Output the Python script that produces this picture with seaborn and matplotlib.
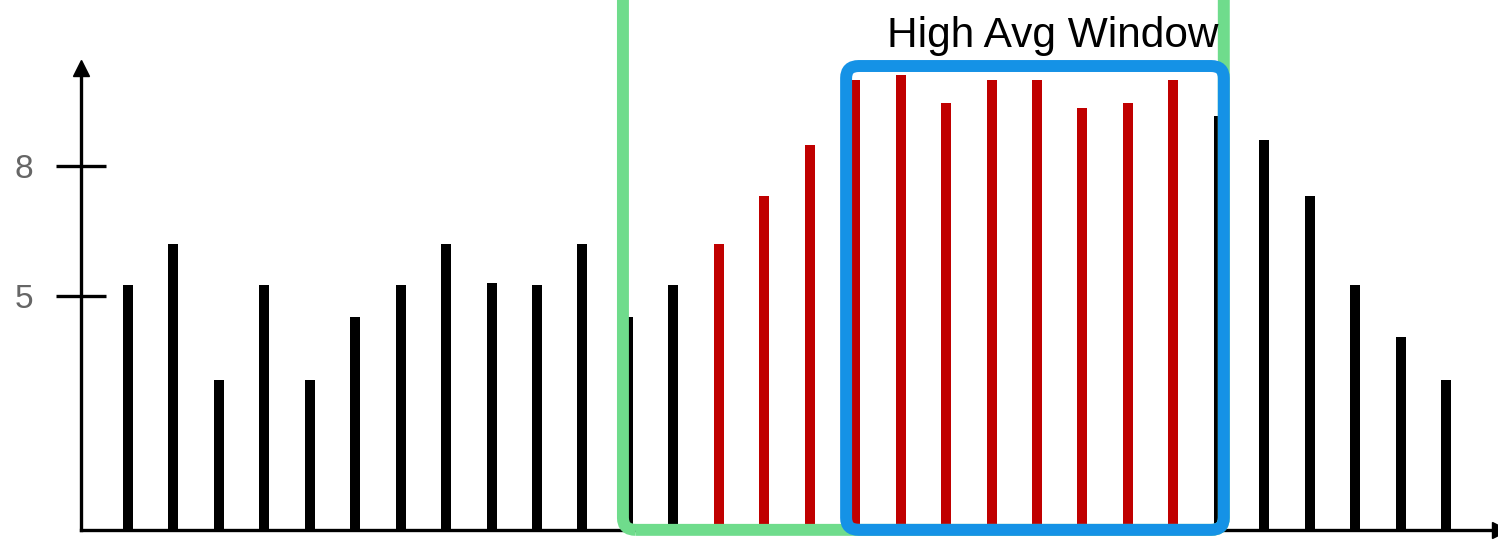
import pandas as pd
import seaborn as sns
import matplotlib.pyplot as plt
from matplotlib.patches import FancyBboxPatch

# values (tick units)
values = [5.25, 6.2, 3.05, 5.25, 3.05, 4.5, 5.25, 6.2, 5.3, 5.25,
          6.2, 4.5, 5.25, 6.2, 7.3, 8.5, 10.0, 10.1, 9.45, 10.0,
          10.0, 9.35, 9.45, 10.0, 9.15, 8.6, 7.3, 5.25, 4.05, 3.05]
highlight = [0] * 13 + [1] * 11 + [0] * 6
ytick_vals = [5, 8]
ytick_labels = ['5', '8']
label_text = 'High Avg Window'

base = -0.42  # where the x axis sits

df = pd.DataFrame({'pos': range(len(values)), 'value': values,
                   'group': ['high' if h else 'normal' for h in highlight]})

sns.set_style('white')
plt.rcParams['font.family'] = ['Liberation Sans', 'DejaVu Sans']

fig = plt.figure(figsize=(14.98, 5.42), dpi=100)
ax = fig.add_axes([0, 0, 1, 1])

sns.barplot(data=df, x='pos', y='value', hue='group',
            palette={'normal': 'black', 'high': '#c00000'}, saturation=1,
            width=0.22, legend=False, ax=ax, zorder=1, linewidth=0)

# bars start from the axis line, not from zero
for p in ax.patches:
    idx = int(round(p.get_x() + p.get_width() / 2))
    p.set_y(base)
    p.set_height(values[idx] - base)

ax.set_xlim(-2.816, 30.143)
ax.set_ylim(-0.701, 11.845)

# axes with arrows
yaxis_x = -1.023
sns.despine(ax=ax)
ax.spines['left'].set_position(('data', yaxis_x))
ax.spines['left'].set_bounds(base, 10.28)
ax.spines['bottom'].set_position(('data', base))
ax.spines['bottom'].set_bounds(yaxis_x, 30.18)
for s in ['left', 'bottom']:
    ax.spines[s].set_linewidth(2.4)
    ax.spines[s].set_color('black')
ax.plot([yaxis_x], [10.28], marker='^', ms=11.5, color='black', clip_on=False)
ax.plot([30.18], [base], marker='>', ms=11.5, color='black', clip_on=False)

ax.set_xticks([])
ax.set_xlabel('')
ax.set_ylabel('')
ax.set_yticks(ytick_vals)
ax.set_yticklabels(ytick_labels)
ax.tick_params(axis='y', left=True, direction='inout', length=36, width=2.4,
               color='black', labelsize=24, labelcolor='#666666', pad=17)

# window boxes
green = FancyBboxPatch((10.89, base), 24.11 - 10.89, 12.5 - base,
                       boxstyle='round,pad=0,rounding_size=0.28',
                       fill=False, edgecolor='#6fdc8c', linewidth=8.6, zorder=3)
blue = FancyBboxPatch((15.80, base), 24.11 - 15.80, 10.317 - base,
                      boxstyle='round,pad=0,rounding_size=0.28',
                      fill=False, edgecolor='#1592e6', linewidth=8.6, zorder=4)
ax.add_patch(green)
ax.add_patch(blue)

ax.text(24.0, 10.757, label_text, ha='right', va='baseline', fontsize=30.5,
        color='black', zorder=5)

plt.savefig('out.png', dpi=100)
